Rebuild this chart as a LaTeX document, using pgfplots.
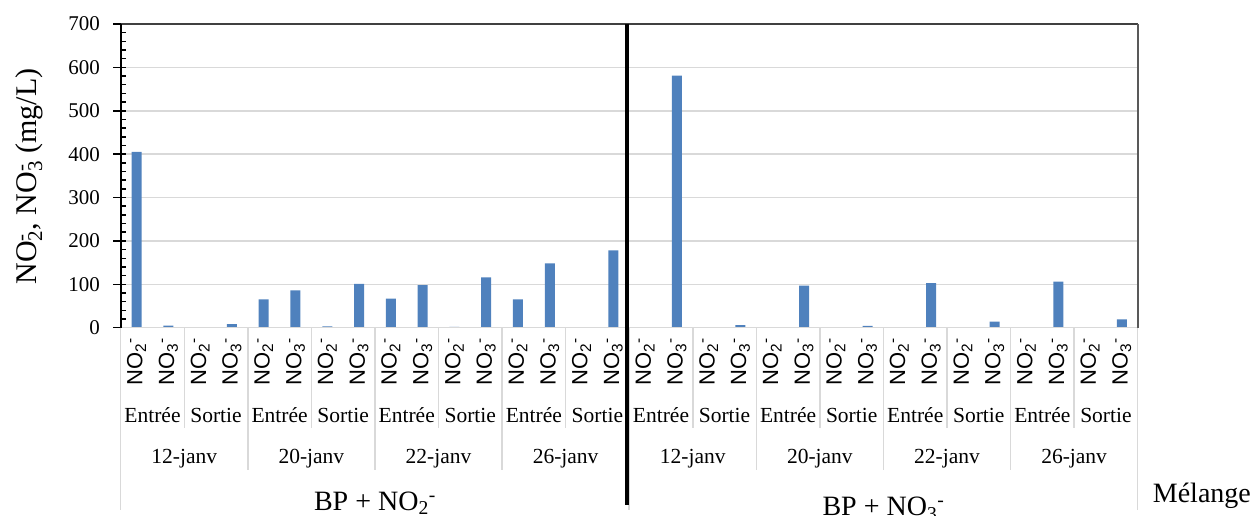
\documentclass[border=0pt]{standalone}
\usepackage{pgfplots}
\pgfplotsset{compat=1.18}
\usepackage{fontspec}
\setmainfont{Liberation Serif}
\newfontfamily\arialfont{Liberation Sans}

\definecolor{barblue}{HTML}{4F81BD}
\definecolor{gridgray}{HTML}{D9D9D9}
\definecolor{framedark}{HTML}{404040}
\definecolor{framegray}{HTML}{595959}

% ion names
\newcommand\ntwo{NO\textsubscript{2}\textsuperscript{-}}
\newcommand\nthree{NO\textsubscript{3}\textsuperscript{-}}
\newcommand\stk[1]{\rlap{\textsuperscript{-}}\textsubscript{#1}}

% plot area geometry (pt)
\def\AL{120.7}
\def\AB{188.3}
\def\CW{31.78125}

\begin{document}
\begin{tikzpicture}
\begin{axis}[
  at={(\AL pt,\AB pt)}, anchor=south west,
  scale only axis, width=1017pt, height=303.7pt,
  xmin=-0.5, xmax=31.5, ymin=0, ymax=700,
  ybar, bar width=10pt,
  axis line style={draw=none},
  clip=false,
  xtick={0,...,31},
  xticklabels={\ntwo,\nthree,\ntwo,\nthree,\ntwo,\nthree,\ntwo,\nthree,
               \ntwo,\nthree,\ntwo,\nthree,\ntwo,\nthree,\ntwo,\nthree,
               \ntwo,\nthree,\ntwo,\nthree,\ntwo,\nthree,\ntwo,\nthree,
               \ntwo,\nthree,\ntwo,\nthree,\ntwo,\nthree,\ntwo,\nthree},
  xtick style={draw=none},
  xticklabel style={rotate=90, anchor=east, inner sep=0pt,
    font=\arialfont\fontsize{22}{22}\selectfont},
  xticklabel shift=10pt,
  xtick pos=bottom, ytick pos=left,
  ytick={0,100,...,700},
  minor y tick num=4,
  tick align=inside,
  major tick length=5pt, minor tick length=5pt,
  ytick style={black, line width=1.5pt},
  ymajorgrids, major grid style={gridgray, line width=1.5pt},
  yticklabel style={font=\fontsize{21}{21}\selectfont, anchor=east,
    inner sep=0pt, xshift=-20.7pt},
  /pgf/number format/assume math mode=true,
  extra y ticks={0,100,...,700},
  extra y tick labels={},
  extra y tick style={tick align=outside, major tick length=7.7pt, grid=none},
]
\addplot[fill=barblue, draw=none] coordinates {
  (0,405) (1,5) (2,0) (3,8)
  (4,65) (5,86) (6,3) (7,101)
  (8,67) (9,98) (10,2) (11,116)
  (12,65) (13,148) (14,0) (15,178)
  (16,0) (17,581) (18,0) (19,6)
  (20,0) (21,97) (22,0) (23,4)
  (24,0) (25,103) (26,0) (27,14)
  (28,0) (29,106) (30,0) (31,19)
};
% frame of the plot area
\draw[gridgray, line width=1.5pt] (rel axis cs:0,0) -- (rel axis cs:1,0);
\draw[framedark, line width=1.5pt] (rel axis cs:0,1) -- (rel axis cs:1,1);
\draw[framegray, line width=2pt] (rel axis cs:1,0) -- (rel axis cs:1,1);
\draw[black, line width=2pt] (rel axis cs:0,0) -- (rel axis cs:0,1);
\end{axis}

% category separators below the axis
\foreach \k in {2,6,...,30}
  \draw[gridgray, line width=1.5pt] ({\AL pt+\k*\CW pt},\AB pt) -- ++(0,-100.3pt);
\foreach \k in {4,8,12,20,24,28}
  \draw[gridgray, line width=1.5pt] ({\AL pt+\k*\CW pt},\AB pt) -- ++(0,-142.3pt);
\foreach \k in {0,16,32}
  \draw[gridgray, line width=1.5pt] ({\AL pt+\k*\CW pt},\AB pt) -- ++(0,-182.3pt);

% sampling point
\foreach \p in {0,2,...,14}
  \node[anchor=base, inner sep=0pt, font=\fontsize{21.5}{21.5}\selectfont]
    at ({\AL pt+(2*\p+1)*\CW pt},93.3pt) {Entrée};
\foreach \p in {1,3,...,15}
  \node[anchor=base, inner sep=0pt, font=\fontsize{21.5}{21.5}\selectfont]
    at ({\AL pt+(2*\p+1)*\CW pt},93.3pt) {Sortie};

% dates
\foreach \d/\t in {0/12-janv,1/20-janv,2/22-janv,3/26-janv,4/12-janv,5/20-janv,6/22-janv,7/26-janv}
  \node[anchor=base, inner sep=0pt, font=\fontsize{21.5}{21.5}\selectfont]
    at ({\AL pt+(4*\d+2)*\CW pt},52.7pt) {\t};

% mixtures
\node[anchor=base, inner sep=0pt, font=\fontsize{28}{28}\selectfont]
  at ({\AL pt+8*\CW pt},5.5pt) {BP + NO\textsubscript{2}\textsuperscript{-}};
\node[anchor=base, inner sep=0pt, font=\fontsize{28}{28}\selectfont]
  at ({\AL pt+24*\CW pt},0pt) {BP + NO\textsubscript{3}\textsuperscript{-}};
\node[anchor=base west, inner sep=0pt, font=\fontsize{28}{28}\selectfont]
  at (1152.7pt,13.3pt) {Mélange};

% divider between the two mixtures
\draw[black, line width=4pt] (626.7pt,492pt) -- (626.7pt,11pt);

% y axis title
\node[rotate=90, anchor=base, inner sep=0pt, font=\fontsize{30}{30}\selectfont]
  at (36.7pt,339.5pt) {NO\stk{2}, NO\stk{3} (mg/L)};

\pgfresetboundingbox
\path[use as bounding box] (0,0) rectangle (1257pt,516pt);
\end{tikzpicture}
\end{document}
